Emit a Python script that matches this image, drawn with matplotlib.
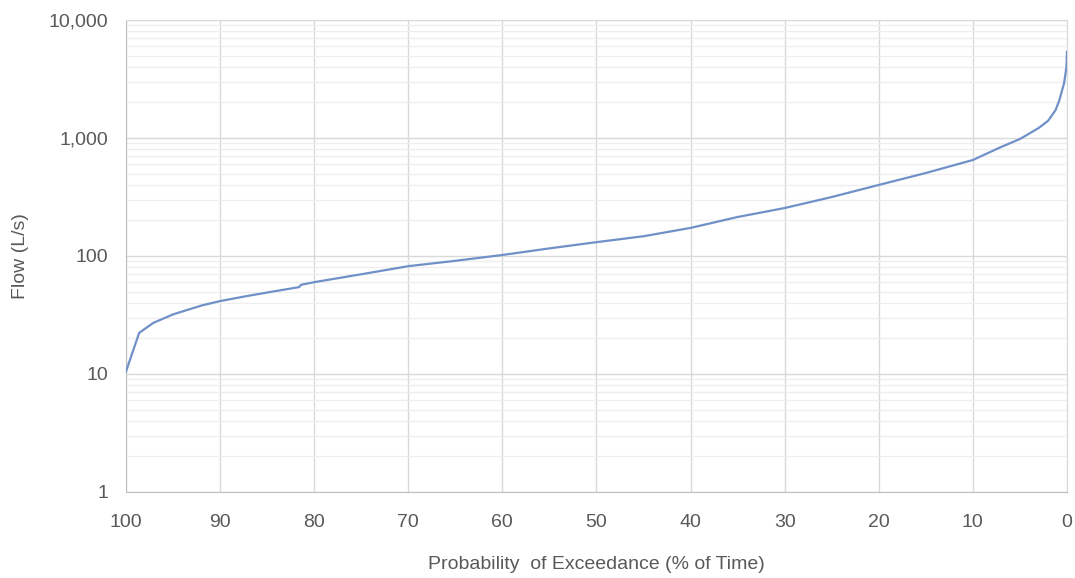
import numpy as np
import matplotlib.pyplot as plt
from matplotlib.ticker import FuncFormatter, LogLocator, MultipleLocator

# flow duration curve
exceed_pct = [100, 98.6, 97.1, 95, 92, 90, 87, 85, 81.6, 81.4, 80, 75, 70, 65, 60, 55, 50,
              45, 40, 35, 30, 25, 20, 15, 10, 7, 5, 3, 2, 1.2, 0.8, 0.3, 0.05, 0]
flow_ls = [10.5, 22.3, 27.1, 32, 38, 41.5, 46, 49, 54.5, 57, 60, 70, 82, 91, 102, 116, 131,
           147, 173, 214, 255, 316, 400, 505, 651, 839, 980, 1216, 1400, 1727, 2100, 2925, 4000, 5355]

GREY = "#595959"
plt.rcParams["font.family"] = ["Liberation Sans", "DejaVu Sans"]

fig = plt.figure(figsize=(10.75, 5.78), dpi=100)
ax = fig.add_axes([0.1172, 0.1488, 0.8753, 0.8166])

ax.plot(exceed_pct, flow_ls, color="#7090c8", lw=1.6, zorder=3)

ax.set_yscale("log")
ax.set_ylim(1, 10000)
ax.set_xlim(100, 0)
ax.xaxis.set_major_locator(MultipleLocator(10))
ax.yaxis.set_major_locator(LogLocator(base=10))
ax.yaxis.set_minor_locator(LogLocator(base=10, subs=np.arange(2, 10)))
ax.yaxis.set_major_formatter(FuncFormatter(lambda v, p: f"{v:,.0f}"))
ax.yaxis.set_minor_formatter(FuncFormatter(lambda v, p: ""))

ax.grid(which="major", color="#d9d9d9", lw=1.0)
ax.grid(which="minor", axis="y", color="#eeeeee", lw=0.9)
ax.set_axisbelow(True)
for s in ax.spines.values():
    s.set_color("#d9d9d9")
ax.spines["left"].set_color("#bfbfbf")
ax.spines["bottom"].set_color("#bfbfbf")
ax.tick_params(which="both", length=0, colors=GREY, labelsize=14)
ax.tick_params(axis="y", pad=13)
ax.tick_params(axis="x", pad=16)

ax.set_xlabel("Probability  of Exceedance (% of Time)", color=GREY, fontsize=14, labelpad=18)
ax.set_ylabel("Flow (L/s)", color=GREY, fontsize=14, labelpad=14)

fig.savefig("out.png", dpi=100)
